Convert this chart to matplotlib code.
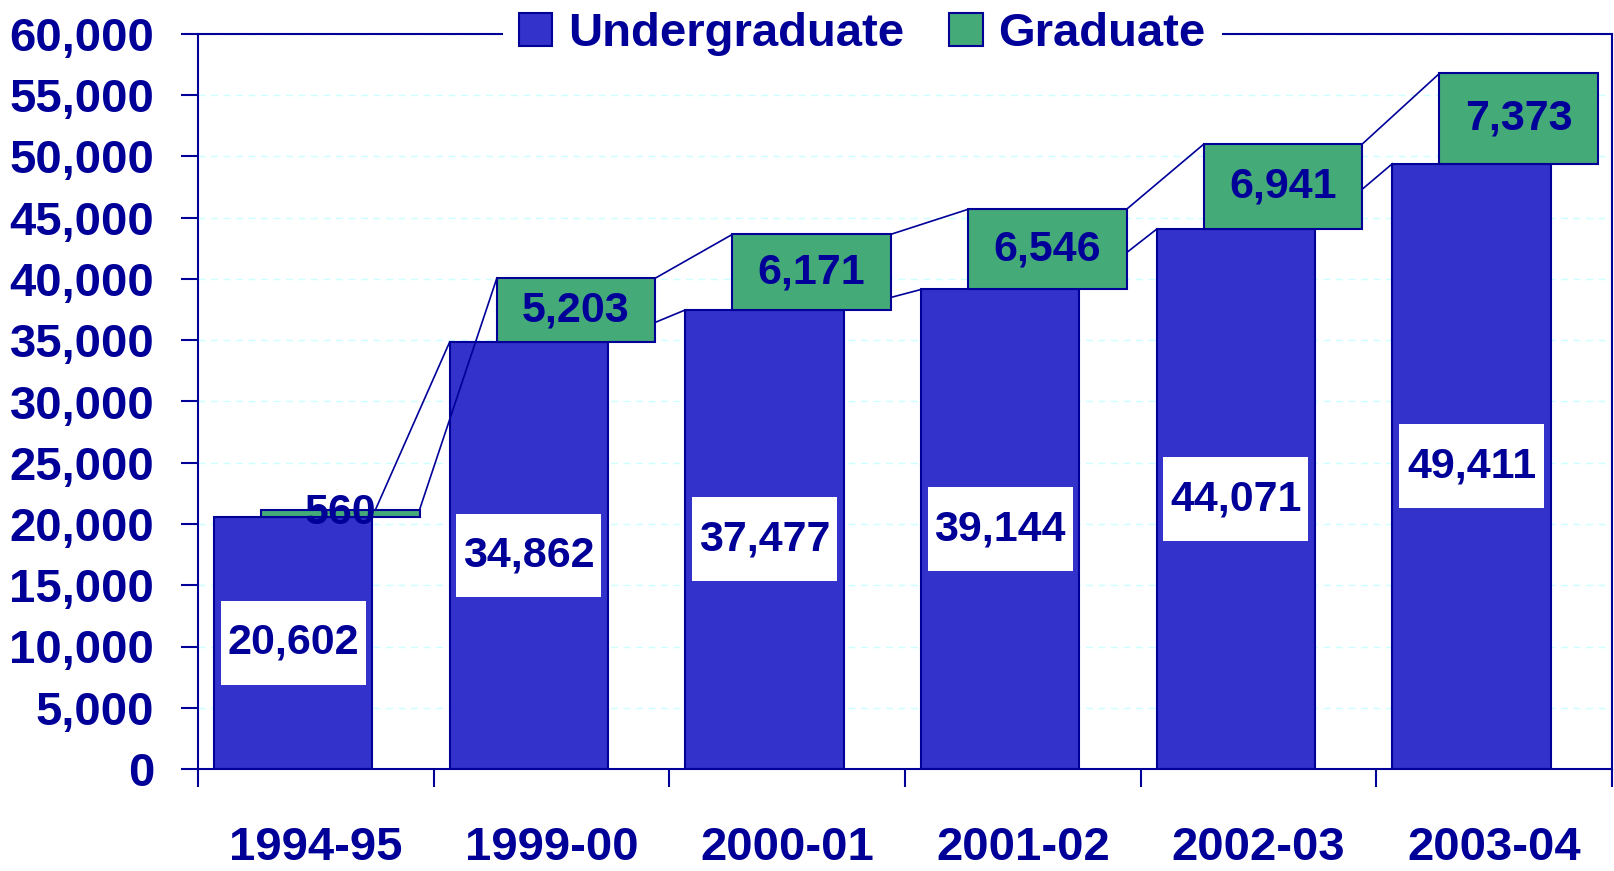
import matplotlib
matplotlib.use("Agg")
import matplotlib.pyplot as plt
from matplotlib.patches import Patch, Rectangle
import numpy as np

years = ["1994-95", "1999-00", "2000-01", "2001-02", "2002-03", "2003-04"]
undergrad = [20602, 34862, 37477, 39144, 44071, 49411]
graduate = [560, 5203, 6171, 6546, 6941, 7373]
yticks = list(range(0, 60001, 5000))

NAVY = "#000099"
BLUE = "#3333CC"
GREEN = "#44AA77"
GRID = "#CCFFFF"

plt.rcParams["font.family"] = ["Liberation Sans", "DejaVu Sans"]
plt.rcParams["font.weight"] = "bold"

fig = plt.figure(figsize=(16.15, 8.71), dpi=100)
ax = fig.add_axes([198 / 1615, 102 / 871, 1414 / 1615, 735 / 871])

x = np.arange(len(years))
ug = np.array(undergrad)
gr = np.array(graduate)
tot = ug + gr

w = 0.672
uc = -0.096   # undergraduate bar offset inside its category
gc = 0.104    # graduate bar sits shifted to the right

ax.bar(x + uc, ug, width=w, color=BLUE, edgecolor=NAVY, linewidth=1.5, zorder=2)
ax.bar(x + gc, gr, bottom=ug, width=w, color=GREEN, edgecolor=NAVY,
       linewidth=1.5, zorder=3)

# series lines between neighbouring bars
for i in range(len(years) - 1):
    ax.plot([i + uc + w / 2, i + 1 + uc - w / 2], [ug[i], ug[i + 1]],
            color=NAVY, lw=1.2, zorder=2.5)
    ax.plot([i + gc + w / 2, i + 1 + gc - w / 2], [tot[i], tot[i + 1]],
            color=NAVY, lw=1.2, zorder=2.5)

# white label boxes (taller than a plain text bbox)
box_w, box_h = 0.615, 6850
for i in range(len(years)):
    ax.add_patch(Rectangle((i + uc - box_w / 2, ug[i] / 2 - box_h / 2),
                           box_w, box_h, fc="white", ec="none", zorder=3.5))
    ax.text(i + uc, ug[i] / 2, f"{ug[i]:,}", ha="center", va="center",
            fontsize=31, color=NAVY, fontweight="bold", zorder=4)
    ax.text(i + gc, ug[i] + gr[i] / 2, f"{gr[i]:,}", ha="center", va="center",
            fontsize=31, color=NAVY, fontweight="bold", zorder=4)

ax.set_xlim(-0.5, len(years) - 0.5)
ax.set_ylim(0, 60000)

ax.set_yticks(yticks)
ax.set_yticklabels([f"{v:,}" for v in yticks])
ax.tick_params(axis="y", direction="out", length=12.5, width=1.5, color=NAVY,
               labelcolor=NAVY, labelsize=34, pad=19)

ax.set_xticks(np.arange(-0.5, len(years), 1.0))
ax.set_xticklabels([])
ax.tick_params(axis="x", which="major", direction="out", length=13, width=1.5,
               color=NAVY)
ax.set_xticks(x, minor=True)
ax.set_xticklabels(years, minor=True)
ax.tick_params(axis="x", which="minor", length=0, labelcolor=NAVY,
               labelsize=34, pad=41)

for s in ax.spines.values():
    s.set_color(NAVY)
    s.set_linewidth(1.5)

ax.yaxis.grid(True, color=GRID, linestyle=(0, (5, 4)), linewidth=1)
ax.set_axisbelow(True)

handles = [Patch(facecolor=BLUE, edgecolor=NAVY, linewidth=1.5),
           Patch(facecolor=GREEN, edgecolor=NAVY, linewidth=1.5)]
leg = ax.legend(handles, ["Undergraduate", "Graduate"], loc="center",
                bbox_to_anchor=(0.47, 1.0), ncol=2, frameon=True,
                framealpha=1, facecolor="white", edgecolor="none",
                fancybox=False, handlelength=0.7, handleheight=0.7,
                handletextpad=0.34, columnspacing=0.95, borderpad=0.35,
                prop=dict(size=34, weight="bold"))
for t in leg.get_texts():
    t.set_color(NAVY)
leg.set_zorder(10)

fig.savefig("out.png", dpi=100, facecolor="white")
